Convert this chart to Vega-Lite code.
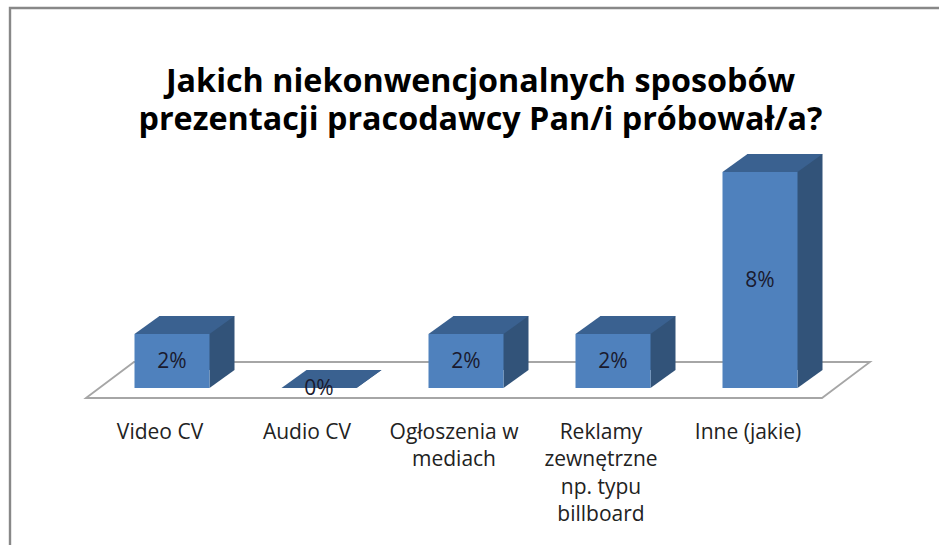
{
"$schema":"https://vega.github.io/schema/vega-lite/v6.json",
"width":929,"height":537,
"autosize":{"type":"none"},
"padding":{"left":10,"top":8,"right":0,"bottom":0},
"background":"#ffffff",
"view":{"stroke":"#888888","strokeWidth":2.4,"strokeDash":[929,1466,537],"fill":"#ffffff"},
"title":{"text":["Jakich niekonwencjonalnych sposobów","prezentacji pracodawcy Pan/i próbował/a?"],"font":"Open Sans","fontSize":32.3,"fontWeight":"bold","color":"#000000","anchor":"middle","frame":"group","orient":"top","offset":-128,"dx":6,"lineHeight":38},
"config":{"axis":{"labelLineHeight":27.5}},
"data":{"values":[
{"category":"Video CV","value":2,"label":"2%"},
{"category":"Audio CV","value":0,"label":"0%"},
{"category":"Ogłoszenia w\nmediach","value":2,"label":"2%"},
{"category":"Reklamy\nzewnętrzne\nnp. typu\nbillboard","value":2,"label":"2%"},
{"category":"Inne (jakie)","value":8,"label":"8%"}
]},
"encoding":{
"x":{"field":"category","type":"nominal","sort":null,
"scale":{"domain":["Video CV","Audio CV","Ogłoszenia w\nmediach","Reklamy\nzewnętrzne\nnp. typu\nbillboard","Inne (jakie)"],"range":[88.5,823.5],"paddingInner":0,"paddingOuter":0},
"axis":{"title":null,"domain":false,"ticks":false,"grid":false,"labelAngle":0,"labelPadding":0,"offset":-124,"labelOffset":-12,"labelBaseline":"top","labelFont":"Open Sans","labelFontSize":21,"labelColor":"#222222","labelLimit":0,"labelOverlap":false,"labelBound":false,"labelExpr":"split(datum.label, '\\n')"}},
"y":{"field":"value","type":"quantitative","scale":{"domain":[0,8],"range":[380,164],"nice":false,"zero":true},"axis":null}
},
"layer":[
{"data":{"values":[{"category":"Video CV","value":0}]},
 "mark":{"type":"point","filled":false,"opacity":1,"size":4,"stroke":"#a6a6a6","strokeWidth":1.8,"shape":"M-86,10L-38,-26L698,-26L650,10Z"}},
{"mark":{"type":"bar","width":75,"xOffset":25,"yOffset":-18,"y2Offset":-18,"fill":"#325379"},"encoding":{"y2":{"datum":0}}},
{"mark":{"type":"point","filled":true,"opacity":1,"size":4,"fill":"#325379","strokeWidth":0,"shape":"M37.5,0L37.5,-18L62.5,-18Z"},"encoding":{"y":{"datum":0}}},
{"mark":{"type":"bar","width":75,"fill":"#4f81bd"},"encoding":{"y2":{"datum":0}}},
{"mark":{"type":"point","filled":true,"opacity":1,"size":4,"fill":"#3a6190","strokeWidth":0,"shape":"M-37.5,0L37.5,0L62.5,-18L-12.5,-18Z"}},
{"mark":{"type":"text","font":"Open Sans","fontSize":21,"color":"#1a1a2e","baseline":"middle","align":"center","yOffset":{"expr":"datum.value*13.5+1"}},"encoding":{"text":{"field":"label"}}}
]
}
